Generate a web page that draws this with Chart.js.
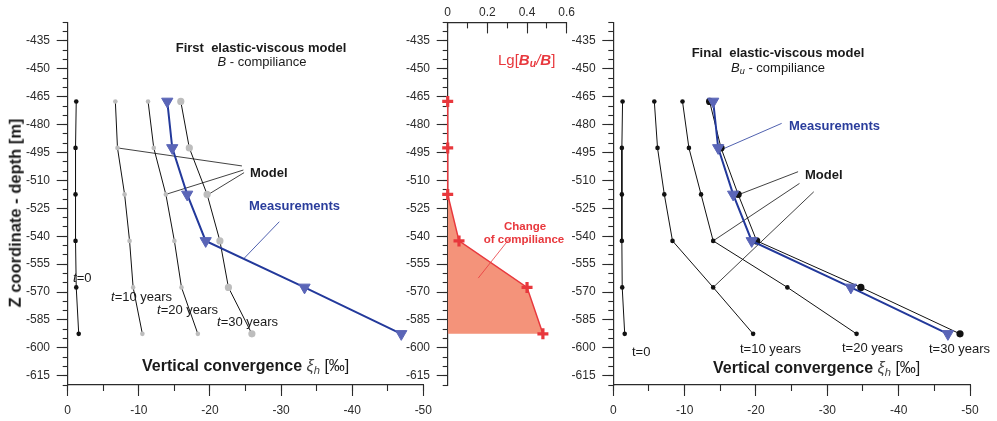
<!DOCTYPE html>
<html>
<head>
<meta charset="utf-8">
<script src="https://cdn.jsdelivr.net/npm/chart.js@4.4.0/dist/chart.umd.min.js"></script>
<style>
  html, body { margin: 0; padding: 0; background: #fff; }
  #wrap { position: relative; width: 997px; height: 421px; overflow: hidden;
          font-family: "Liberation Sans", Arial, sans-serif; color: #1a1a1a; }
  canvas { position: absolute; top: 0; }
  .t { position: absolute; white-space: pre; line-height: 1; font-size: 13px; }
  .c { transform: translate(-50%, -50%); }
  .l { transform: translateY(-50%); }
  .b { font-weight: bold; }
  .blue { color: #2a3d9c; }
  .red { color: #e8383d; }
  .ax { font-size: 16px; font-weight: bold; }
  .ax .xi { font-weight: normal; font-style: italic; color: #444; }
  .ax .br { font-weight: normal; }
  sub { font-size: 70%; vertical-align: -0.25em; line-height: 0; }
</style>
</head>
<body>
<div id="wrap">
  <canvas id="cFirst" width="440" height="421" style="left:0px"></canvas>
  <canvas id="cLg" width="200" height="421" style="left:380px"></canvas>
  <canvas id="cFinal" width="437" height="421" style="left:560px"></canvas>

  <div class="t c ax" style="left:15px;top:213px;font-size:16.5px;transform:translate(-50%,-50%) rotate(-90deg)">Z coordinate - depth [m]</div>

  <div class="t c b" style="left:261px;top:47px">First  elastic-viscous model</div>
  <div class="t c" style="left:262px;top:61px"><i>B</i> - compiliance</div>
  <div class="t l b" style="left:250px;top:172px">Model</div>
  <div class="t l b blue" style="left:249px;top:205px">Measurements</div>
  <div class="t l" style="left:73px;top:277px"><i>t</i>=0</div>
  <div class="t l" style="left:111px;top:296px"><i>t</i>=10 years</div>
  <div class="t l" style="left:157px;top:309px"><i>t</i>=20 years</div>
  <div class="t l" style="left:217px;top:321px"><i>t</i>=30 years</div>
  <div class="t l ax" style="left:142px;top:366px">Vertical convergence <span class="xi">ξ<sub>h</sub></span> <span class="br">[‰]</span></div>

  <div class="t l red" style="left:498px;top:59px;font-size:15px">Lg[<b><i>B<sub>u</sub></i></b><i>/</i><b><i>B</i></b>]</div>
  <div class="t c b red" style="left:525px;top:227px;font-size:11.5px">Change</div>
  <div class="t c b red" style="left:524px;top:240px;font-size:11.5px">of compiliance</div>

  <div class="t c b" style="left:778px;top:52px">Final  elastic-viscous model</div>
  <div class="t c" style="left:778px;top:67px"><i>B<sub>u</sub></i> - compiliance</div>
  <div class="t l b blue" style="left:789px;top:125px">Measurements</div>
  <div class="t l b" style="left:805px;top:174px">Model</div>
  <div class="t l" style="left:632px;top:351px">t=0</div>
  <div class="t l" style="left:740px;top:348px">t=10 years</div>
  <div class="t l" style="left:842px;top:347px">t=20 years</div>
  <div class="t l" style="left:929px;top:348px">t=30 years</div>
  <div class="t l ax" style="left:713px;top:368px">Vertical convergence <span class="xi">ξ<sub>h</sub></span> <span class="br">[‰]</span></div>
</div>

<script>
// depth of the measuring points [m]
const DEPTH = [-467.5, -492.5, -517.5, -542.5, -567.5, -592.5];

// first elastic-viscous model (B compliance), convergence [‰]
const FIRST_T0  = [-1.2, -1.1, -1.1, -1.1, -1.2, -1.55];
const FIRST_T10 = [-6.7, -7.0, -8.0, -8.7, -9.2, -10.5];
const FIRST_T20 = [-11.3, -12.1, -13.8, -15.0, -16.0, -18.3];
const FIRST_T30 = [-15.9, -17.1, -19.6, -21.4, -22.6, -25.9];

// measured convergence [‰]
const MEASURED = [-14.0, -14.7, -16.8, -19.4, -33.3, -46.9];

// final elastic-viscous model (Bu compliance)
const FINAL_T0  = [-1.3, -1.2, -1.2, -1.2, -1.25, -1.6];
const FINAL_T10 = [-5.75, -6.2, -7.15, -8.3, -14.0, -19.6];
const FINAL_T20 = [-9.7, -10.6, -12.3, -14.0, -24.4, -34.1];
const FINAL_T30 = [-13.5, -15.1, -17.5, -20.1, -34.7, -48.6];

// Lg[Bu/B]
const LG_BU_B = [0, 0, 0, 0.057, 0.40, 0.48];

// tick labels
const Y_TICKS = [-435, -450, -465, -480, -495, -510, -525, -540, -555, -570, -585, -600, -615];
const CONV_TICKS = [0, -10, -20, -30, -40, -50];
const LG_TICKS = [0, 0.2, 0.4, 0.6];

// leader lines of the annotations, in data units [x, y]
const FIRST_MODEL_LEADERS = [
  [[-7.0, -492.5], [-24.5, -502.2]],
  [[-13.8, -517.5], [-24.7, -504.4]],
  [[-20.0, -517.0], [-24.8, -505.8]]
];
const FIRST_MEAS_LEADER = [[-29.75, -532.2], [-24.8, -551.9]];
const FINAL_MEAS_LEADER = [[-23.6, -479.3], [-15.05, -493.6]];
const FINAL_MODEL_LEADERS = [
  [[-25.9, -505.3], [-17.8, -517.3]],
  [[-26.1, -511.6], [-14.0, -542.5]],
  [[-28.1, -516.1], [-14.0, -567.5]]
];
const LG_LEADER = [[0.318, -540.4], [0.154, -562.5]];

const INK = '#2b2b2b';
const BLACK = '#111111';
const GREY = '#bdbdbd';
const BLUE_LINE = '#23399b';
const BLUE_MARK = '#5a65b7';
const RED = '#e8383d';
const SALMON = '#f4937a';
const tickFont = { family: "'Liberation Sans', Arial, sans-serif", size: 12 };

const steps = (from, to, step) => {
  const out = [];
  const n = Math.round(Math.abs(to - from) / step);
  for (let i = 0; i <= n; i++) out.push(+(from + Math.sign(to - from) * i * step).toFixed(3));
  return out;
};
const pts = (xs, ys) => xs.map((x, i) => ({ x, y: ys[i] }));

// a labelled axis plus a zero-size twin that only draws the short minor ticks
function axisPair(id, o) {
  const common = { type: 'linear', position: o.position, min: o.min, max: o.max, reverse: !!o.reverse };
  const setSize = (s, v) => {
    if (s.isHorizontal()) s.height = v; else s.width = v;
    s.paddingLeft = s.paddingRight = s.paddingTop = s.paddingBottom = 0;
  };
  return {
    [id]: {
      ...common, weight: 1,
      afterBuildTicks: s => { s.ticks = o.major.map(v => ({ value: v })); },
      afterFit: s => setSize(s, o.size),
      border: { display: true, color: INK, width: 1.2 },
      grid: { drawOnChartArea: false, drawTicks: true, tickLength: o.tick, tickColor: INK, tickWidth: 1.1 },
      ticks: { color: INK, font: tickFont, padding: o.pad, maxRotation: 0, autoSkip: false, callback: v => String(v) }
    },
    [id + 'm']: {
      ...common, weight: 0,
      afterBuildTicks: s => { s.ticks = o.minor.map(v => ({ value: v })); },
      afterFit: s => setSize(s, 0),
      border: { display: false },
      grid: { drawOnChartArea: false, drawTicks: true, tickLength: o.minorTick, tickColor: INK, tickWidth: 1.1 },
      ticks: { display: false }
    }
  };
}

const depthAxis = (size) => axisPair('y', {
  position: 'left', min: -620, max: -425, major: Y_TICKS, minor: steps(-425, -620, 5),
  size, pad: 6.7, tick: 11, minorTick: 5
});
const convAxis = () => axisPair('x', {
  position: 'bottom', min: -50, max: 0, reverse: true, major: CONV_TICKS, minor: steps(0, -50, 5),
  size: 36, pad: 7.5, tick: 11, minorTick: 6
});

const profile = (xs, dot, r) => ({
  data: pts(xs, DEPTH), showLine: true, borderColor: BLACK, borderWidth: 1,
  pointRadius: r, pointBackgroundColor: dot, pointBorderColor: dot, pointBorderWidth: 0, order: 2
});
const measured = () => ({
  data: pts(MEASURED, DEPTH), showLine: true, borderColor: BLUE_LINE, borderWidth: 2,
  pointStyle: 'triangle', pointRotation: 180, pointRadius: 6.5,
  pointBackgroundColor: BLUE_MARK, pointBorderColor: BLUE_MARK, pointBorderWidth: 1, order: 0
});
const leader = (seg, color) => ({
  data: seg.map(p => ({ x: p[0], y: p[1] })), showLine: true, borderColor: color, borderWidth: 0.8,
  pointRadius: 0, order: 4
});

const baseOptions = (padding, scales) => ({
  responsive: false, animation: false, events: [],
  layout: { padding, autoPadding: false },
  plugins: { legend: { display: false }, tooltip: { enabled: false } },
  scales
});

new Chart(document.getElementById('cFirst'), {
  type: 'scatter',
  data: { datasets: [
    measured(),
    profile(FIRST_T0, BLACK, 2.3),
    profile(FIRST_T10, GREY, 2.3),
    profile(FIRST_T20, GREY, 2.3),
    profile(FIRST_T30, GREY, 3.6),
    ...FIRST_MODEL_LEADERS.map(s => leader(s, BLACK)),
    leader(FIRST_MEAS_LEADER, BLUE_LINE)
  ] },
  options: baseOptions({ left: 0, right: 16.7, top: 22.4, bottom: 0 }, { ...depthAxis(67.7), ...convAxis() })
});

const fillShape = LG_BU_B.slice(2).map((x, i) => ({ x, y: DEPTH[i + 2] }))
  .concat([{ x: LG_BU_B[0], y: DEPTH[DEPTH.length - 1] }]);

new Chart(document.getElementById('cLg'), {
  type: 'scatter',
  data: { datasets: [
    {
      data: pts(LG_BU_B, DEPTH), showLine: true, borderColor: RED, borderWidth: 1.5,
      pointStyle: 'cross', pointRadius: 5.5, pointBorderWidth: 3.2, pointBorderColor: RED,
      clip: false, order: 0
    },
    leader(LG_LEADER, RED),
    { data: fillShape, showLine: true, fill: 'shape', backgroundColor: SALMON, borderWidth: 0, pointRadius: 0, order: 9 }
  ] },
  options: baseOptions({ left: 0, right: 13.3, top: 0, bottom: 36 }, {
    ...depthAxis(67.7),
    ...axisPair('x', {
      position: 'top', min: 0, max: 0.6, major: LG_TICKS, minor: steps(0, 0.6, 0.1),
      size: 22.4, pad: 13.9, tick: -11, minorTick: -6
    })
  })
});

new Chart(document.getElementById('cFinal'), {
  type: 'scatter',
  data: { datasets: [
    measured(),
    profile(FINAL_T0, BLACK, 2.3),
    profile(FINAL_T10, BLACK, 2.3),
    profile(FINAL_T20, BLACK, 2.3),
    profile(FINAL_T30, BLACK, 3.6),
    leader(FINAL_MEAS_LEADER, BLUE_LINE),
    ...FINAL_MODEL_LEADERS.map(s => leader(s, BLACK))
  ] },
  options: baseOptions({ left: 0, right: 27, top: 22.4, bottom: 0 }, { ...depthAxis(53.3), ...convAxis() })
});
</script>
</body>
</html>
